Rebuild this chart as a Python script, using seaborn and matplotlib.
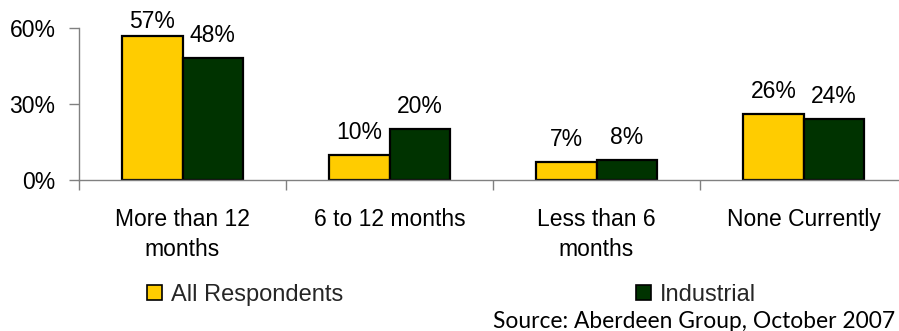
import matplotlib
matplotlib.use("Agg")
import matplotlib.pyplot as plt
import seaborn as sns
import pandas as pd
from matplotlib.patches import Patch

categories = ["More than 12\nmonths", "6 to 12 months", "Less than 6\nmonths", "None Currently"]
series = ["All Respondents", "Industrial"]
all_respondents = [57, 10, 7, 26]
industrial = [48, 20, 8, 24]
colors = ["#FFCC00", "#003300"]
yticks = [0, 30, 60]
source = "Source: Aberdeen Group, October 2007"

sns.set_theme(style="white")
plt.rcParams["font.family"] = ["Liberation Sans", "DejaVu Sans"]

rows = []
for c, a, i in zip(categories, all_respondents, industrial):
    rows.append({"cat": c, "series": series[0], "val": a / 100})
    rows.append({"cat": c, "series": series[1], "val": i / 100})
df = pd.DataFrame(rows)

FS = 16.5

fig = plt.figure(figsize=(8.99, 3.31), dpi=100)
ax = fig.add_axes([79 / 899, 151 / 331, 828 / 899, 152 / 331])

sns.barplot(data=df, x="cat", y="val", hue="series", order=categories,
            hue_order=series, palette=colors, saturation=1, width=0.58,
            edgecolor="black", linewidth=1.6, ax=ax, legend=False)

ax.set_xlim(-0.5, 3.5)
ax.set_ylim(0, 0.6)
ax.set_yticks([t / 100 for t in yticks])
ax.set_yticklabels([f"{t}%" for t in yticks])
ax.set_xlabel("")
ax.set_ylabel("")

for sp in ["top", "right"]:
    ax.spines[sp].set_visible(False)
for sp in ["left", "bottom"]:
    ax.spines[sp].set_color("#808080")
    ax.spines[sp].set_linewidth(1.0)

ax.tick_params(axis="y", which="major", left=True, length=7, width=1.0,
               color="#808080", pad=10, labelsize=FS, labelcolor="black")
ax.set_xticks(range(len(categories)))
ax.set_xticklabels(categories, linespacing=1.38)
ax.tick_params(axis="x", which="major", bottom=False, pad=14, labelsize=FS,
               labelcolor="black")
ax.set_xticks([k - 0.5 for k in range(len(categories) + 1)], minor=True)
ax.tick_params(axis="x", which="minor", bottom=True, length=7, width=1.0,
               color="#808080", direction="out")

for cont in ax.containers:
    for p in cont.patches:
        h = p.get_height()
        y = min(h + 0.063, 0.60)
        ax.text(p.get_x() + p.get_width() / 2, y, f"{round(h * 100)}%",
                ha="center", va="baseline", fontsize=FS, color="black",
                clip_on=False)

handles = [Patch(facecolor=colors[0], edgecolor="black", linewidth=1.2),
           Patch(facecolor=colors[1], edgecolor="black", linewidth=1.2)]
fig.legend(handles, series, loc="center left", bbox_to_anchor=(147 / 899, 36 / 331),
           ncol=2, frameon=False, fontsize=17, handlelength=0.62,
           handleheight=0.62, handletextpad=0.4, columnspacing=12.4,
           borderaxespad=0, borderpad=0)

fig.text(493 / 899, 3 / 331, source, ha="left", va="baseline",
         fontsize=16.4, family=["Lato", "DejaVu Sans"], color="black")

fig.savefig("out.png", dpi=100)
